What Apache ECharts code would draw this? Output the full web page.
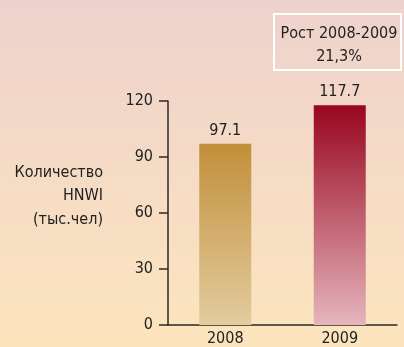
<!DOCTYPE html>
<html>
<head>
    <meta charset="utf-8">
    <title></title>
    <script src="https://cdn.jsdelivr.net/npm/echarts@6/dist/echarts.min.js"></script>
    <style>
        html, body { margin: 0; padding: 0; }
    </style>
</head>
<body>
<div id="main" style="width: 404px;height:347px;"></div>
<script type="text/javascript">
    var years = ['2008', '2009'];
    var values = [97.1, 117.7];
    var yTicks = [0, 30, 60, 90, 120];
    var growthText = ['Рост 2008-2009', '21,3%'];
    var axisNameLines = ['Количество', 'HNWI', '(тыс.чел)'];

    var font = 'DejaVu Sans Condensed';
    // цвета столбцов: верх -> низ
    var barColors = [
        ['#c28f3a', '#e3cc9f'],
        ['#98061f', '#e6b5bd']
    ];

    var myChart = echarts.init(document.getElementById('main'));

    myChart.setOption({
        animation: false,
        graphic: [
            {
                type: 'rect',
                z: -10,
                silent: true,
                shape: { x: 0, y: 0, width: 404, height: 347 },
                style: {
                    fill: new echarts.graphic.LinearGradient(0, 0, 0, 1, [
                        { offset: 0, color: '#eed2cd' },
                        { offset: 1, color: '#fce5bd' }
                    ])
                }
            },
            // рамка "Рост"
            {
                type: 'rect',
                silent: true,
                shape: { x: 274, y: 14, width: 127, height: 56 },
                style: { fill: null, stroke: '#ffffff', lineWidth: 2 }
            },
            {
                type: 'text',
                x: 339,
                y: 45,
                style: {
                    text: growthText.join('\n'),
                    font: '16px "' + font + '"',
                    fill: '#222',
                    align: 'center',
                    verticalAlign: 'middle',
                    lineHeight: 23
                }
            },
            {
                type: 'text',
                x: 103,
                y: 196,
                style: {
                    text: axisNameLines.join('\n'),
                    font: '16px "' + font + '"',
                    fill: '#222',
                    align: 'right',
                    verticalAlign: 'middle',
                    lineHeight: 23.5
                }
            }
        ],
        grid: {
            left: 168,
            right: 7,
            top: 101,
            bottom: 22
        },
        xAxis: {
            type: 'category',
            data: years,
            axisLine: { lineStyle: { color: '#2e2826', width: 1.5 } },
            axisTick: { show: false },
            axisLabel: {
                fontFamily: font,
                fontSize: 16,
                color: '#222',
                margin: 6
            }
        },
        yAxis: {
            type: 'value',
            min: yTicks[0],
            max: yTicks[yTicks.length - 1],
            interval: 30,
            axisLine: { show: true, lineStyle: { color: '#2e2826', width: 1.5 } },
            axisTick: { show: true, length: 9, lineStyle: { color: '#2e2826', width: 1.5 } },
            splitLine: { show: false },
            axisLabel: {
                fontFamily: font,
                fontSize: 16,
                color: '#222',
                margin: 15
            }
        },
        series: [
            {
                type: 'bar',
                barWidth: 52,
                data: values.map(function (v, i) {
                    return {
                        value: v,
                        itemStyle: {
                            color: new echarts.graphic.LinearGradient(0, 0, 0, 1, [
                                { offset: 0, color: barColors[i][0] },
                                { offset: 1, color: barColors[i][1] }
                            ])
                        }
                    };
                }),
                label: {
                    show: true,
                    position: 'top',
                    distance: 5,
                    fontFamily: font,
                    fontSize: 16,
                    color: '#222',
                    formatter: function (p) { return p.value.toFixed(1); }
                }
            }
        ]
    });
</script>
</body>
</html>
